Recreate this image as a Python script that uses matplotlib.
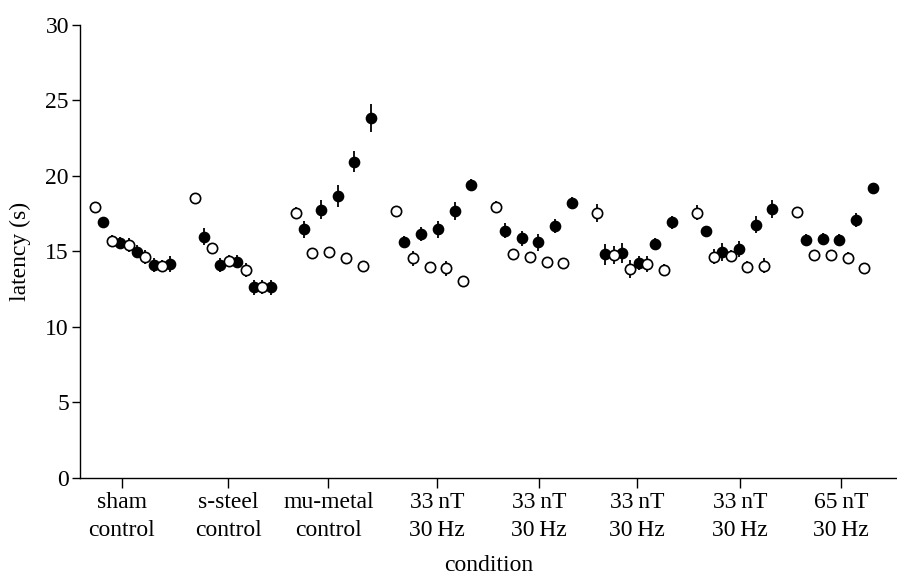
import matplotlib.pyplot as plt

# reading values off the figure: 8 conditions, 5 open + 5 filled points each
conditions = ['sham\ncontrol', 's-steel\ncontrol', 'mu-metal\ncontrol',
              '33\u2009nT\n30\u2009Hz', '33\u2009nT\n30\u2009Hz', '33\u2009nT\n30\u2009Hz',
              '33\u2009nT\n30\u2009Hz', '65\u2009nT\n30\u2009Hz']

open_mean = [[17.96, 15.71, 15.42, 14.63, 14.01],
             [18.51, 15.20, 14.36, 13.77, 12.66],
             [17.52, 14.87, 14.98, 14.58, 14.05],
             [17.69, 14.54, 13.94, 13.88, 13.04],
             [17.92, 14.82, 14.61, 14.32, 14.21],
             [17.56, 14.76, 13.83, 14.16, 13.77],
             [17.56, 14.65, 14.69, 13.99, 14.05],
             [17.60, 14.74, 14.74, 14.54, 13.92]]
open_err = [[0.30, 0.40, 0.45, 0.45, 0.40],
            [0.30, 0.30, 0.40, 0.45, 0.45],
            [0.40, 0.20, 0.30, 0.20, 0.20],
            [0.30, 0.50, 0.30, 0.50, 0.20],
            [0.40, 0.20, 0.20, 0.30, 0.20],
            [0.60, 0.60, 0.60, 0.50, 0.40],
            [0.50, 0.50, 0.40, 0.40, 0.50],
            [0.20, 0.20, 0.20, 0.40, 0.20]]

filled_mean = [[16.92, 15.53, 14.98, 14.10, 14.16],
               [15.97, 14.10, 14.32, 12.62, 12.62],
               [16.46, 17.74, 18.68, 20.93, 23.83],
               [15.60, 16.13, 16.46, 17.67, 19.41],
               [16.37, 15.86, 15.60, 16.68, 18.18],
               [14.80, 14.91, 14.21, 15.49, 16.92],
               [16.32, 14.98, 15.16, 16.77, 17.82],
               [15.75, 15.82, 15.75, 17.06, 19.21]]
filled_err = [[0.38, 0.40, 0.45, 0.45, 0.50],
              [0.55, 0.45, 0.45, 0.50, 0.50],
              [0.55, 0.63, 0.73, 0.68, 0.93],
              [0.40, 0.45, 0.55, 0.60, 0.35],
              [0.50, 0.50, 0.55, 0.45, 0.40],
              [0.70, 0.65, 0.45, 0.40, 0.45],
              [0.35, 0.60, 0.55, 0.55, 0.60],
              [0.40, 0.40, 0.40, 0.45, 0.30]]

# where the condition ticks sit along the x axis (layout, in point slots)
tick_pos = [3.2, 15.9, 27.9, 40.9, 53.1, 64.8, 77.1, 89.2]

plt.rcParams['font.family'] = ['Liberation Serif', 'DejaVu Serif']
plt.rcParams['font.size'] = 17

fig = plt.figure(figsize=(8.97, 5.75), dpi=100)
ax = fig.add_axes([80 / 897, 97 / 575, 817 / 897, (478 - 24.7) / 575])

for g in range(len(conditions)):
    x_open = [g * 12 + 2 * i for i in range(5)]
    x_fill = [g * 12 + 2 * i + 1 for i in range(5)]
    ax.errorbar(x_fill, filled_mean[g], yerr=filled_err[g], fmt='o', color='black',
                ms=7.4, mfc='black', mec='black', elinewidth=1.3, capsize=0, zorder=3)
    ax.errorbar(x_open, open_mean[g], yerr=open_err[g], fmt='o', color='black',
                ms=7.4, mfc='white', mec='black', mew=1.2, elinewidth=1.3, capsize=0, zorder=4)

ax.set_xlim(-1.8, 95.9)
ax.set_ylim(0, 30)
ax.set_yticks([0, 5, 10, 15, 20, 25, 30])
ax.set_xticks(tick_pos)
ax.set_xticklabels(conditions, linespacing=1.45)

ax.spines['top'].set_visible(False)
ax.spines['right'].set_visible(False)
ax.spines['left'].set_linewidth(1.0)
ax.spines['bottom'].set_linewidth(1.0)
ax.tick_params(axis='y', length=6, width=1.0, pad=2)
ax.tick_params(axis='x', length=7, width=1.0, pad=3)

ax.set_ylabel('latency (s)', labelpad=10)
ax.set_xlabel('condition', labelpad=10)

plt.savefig('out.png', dpi=100)
